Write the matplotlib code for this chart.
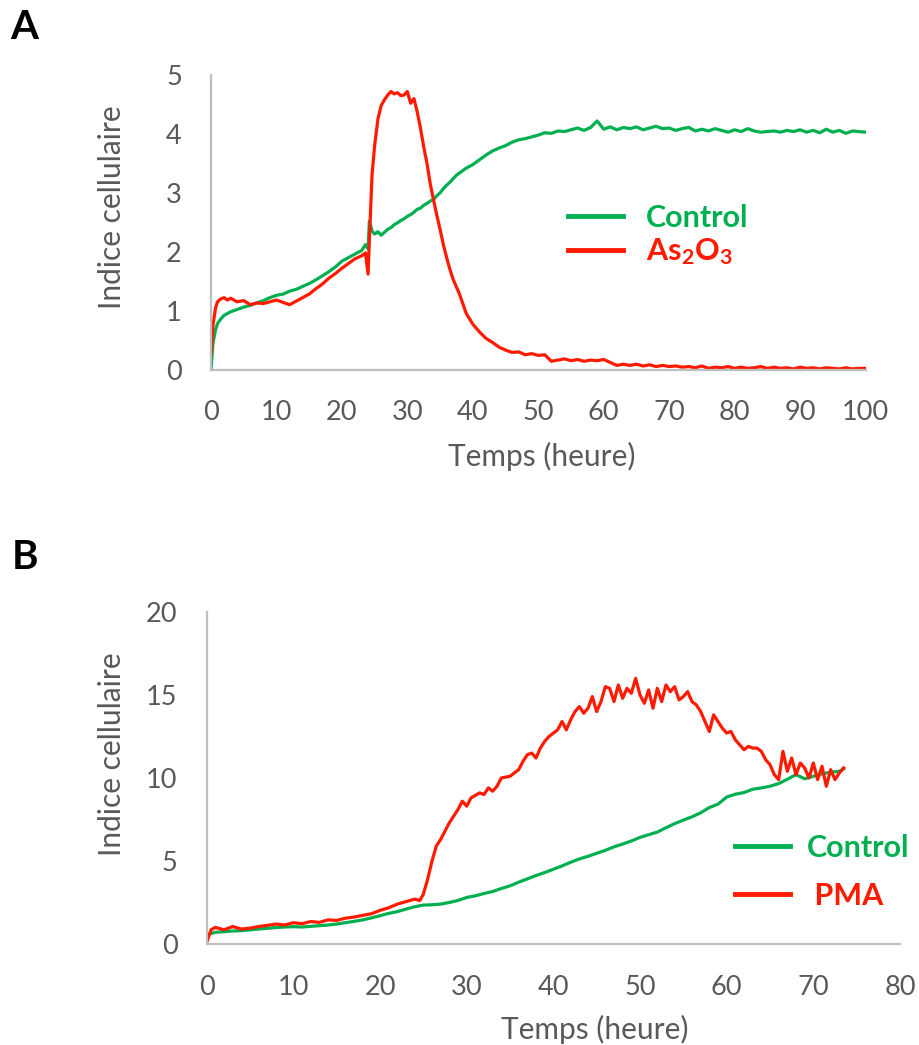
import matplotlib
matplotlib.use('Agg')
import matplotlib.pyplot as plt
from matplotlib.lines import Line2D

plt.rcParams['font.family'] = ['Lato', 'DejaVu Sans']
plt.rcParams['mathtext.fontset'] = 'custom'
plt.rcParams['mathtext.rm'] = 'Lato:bold'
plt.rcParams['mathtext.it'] = 'Lato:bold'
plt.rcParams['mathtext.bf'] = 'Lato:bold'

GREEN = '#00b050'
RED = '#ff1a00'
GRAY_TXT = '#595959'
GRAY_AX = '#bfbfbf'

# ---- Panel A data (time in hours, cell index) ----
tA = [0, 0.3, 0.7, 1.0, 1.5, 2, 2.5, 3, 4, 5, 6, 7, 8, 9, 10, 11, 12, 13, 14, 15,
      16, 17, 18, 19, 20, 21, 22, 23, 23.6, 24.0, 24.2, 24.6, 25.0, 25.5, 26, 26.5,
      27, 27.5, 28, 28.5, 29, 29.5, 30, 30.5, 31, 31.5, 32, 32.5, 33, 33.5, 34, 34.5,
      35, 35.5, 36, 36.5, 37, 37.5, 38, 39, 40, 41, 42, 43, 44, 45, 46, 47, 48, 49,
      50, 51, 52, 53, 54, 55, 56, 57, 58, 59, 60, 61, 62, 63, 64, 65, 66, 67, 68, 69,
      70, 71, 72, 73, 74, 75, 76, 77, 78, 79, 80, 81, 82, 83, 84, 85, 86, 87, 88, 89,
      90, 91, 92, 93, 94, 95, 96, 97, 98, 99, 100]

controlA = [0.0, 0.45, 0.68, 0.78, 0.86, 0.92, 0.95, 0.98, 1.02, 1.06, 1.09, 1.13, 1.17,
            1.22, 1.26, 1.28, 1.33, 1.36, 1.41, 1.46, 1.52, 1.59, 1.66, 1.74, 1.84, 1.90,
            1.96, 2.02, 2.12, 2.05, 2.52, 2.35, 2.30, 2.34, 2.28, 2.33, 2.38, 2.41, 2.46,
            2.49, 2.53, 2.56, 2.60, 2.63, 2.67, 2.72, 2.74, 2.79, 2.82, 2.86, 2.89, 2.95,
            3.00, 3.07, 3.13, 3.18, 3.24, 3.30, 3.34, 3.42, 3.48, 3.56, 3.64, 3.71, 3.76,
            3.80, 3.86, 3.90, 3.92, 3.95, 3.98, 4.02, 4.01, 4.05, 4.04, 4.07, 4.10, 4.06,
            4.11, 4.22, 4.08, 4.12, 4.07, 4.11, 4.09, 4.12, 4.07, 4.10, 4.13, 4.09, 4.10,
            4.06, 4.09, 4.11, 4.05, 4.08, 4.05, 4.09, 4.06, 4.03, 4.07, 4.04, 4.09, 4.05,
            4.03, 4.04, 4.05, 4.03, 4.06, 4.04, 4.07, 4.03, 4.06, 4.02, 4.08, 4.03, 4.06,
            4.01, 4.05, 4.04, 4.03]

as2o3A = [0.25, 0.75, 1.05, 1.15, 1.20, 1.22, 1.18, 1.21, 1.15, 1.17, 1.10, 1.13, 1.12,
          1.15, 1.18, 1.14, 1.10, 1.16, 1.22, 1.28, 1.37, 1.45, 1.55, 1.63, 1.72, 1.80,
          1.88, 1.93, 1.98, 1.62, 2.20, 3.30, 3.80, 4.25, 4.48, 4.58, 4.66, 4.72, 4.68,
          4.70, 4.65, 4.66, 4.72, 4.52, 4.60, 4.38, 4.10, 3.78, 3.50, 3.15, 2.88, 2.62,
          2.38, 2.12, 1.90, 1.70, 1.53, 1.40, 1.27, 0.95, 0.77, 0.64, 0.53, 0.46, 0.38,
          0.33, 0.29, 0.30, 0.25, 0.27, 0.24, 0.25, 0.14, 0.16, 0.18, 0.15, 0.17, 0.14,
          0.16, 0.15, 0.17, 0.12, 0.07, 0.09, 0.07, 0.09, 0.06, 0.08, 0.05, 0.07, 0.05,
          0.06, 0.04, 0.05, 0.03, 0.06, 0.02, 0.04, 0.03, 0.05, 0.02, 0.04, 0.02, 0.03,
          0.05, 0.02, 0.04, 0.02, 0.03, 0.01, 0.04, 0.02, 0.03, 0.01, 0.03, 0.02, 0.01,
          0.03, 0.01, 0.02, 0.02]

# ---- Panel B data ----
tB_control = [0, 1, 2, 3, 4, 5, 6, 7, 8, 9, 10, 11, 12, 13, 14, 15, 16, 17, 18, 19, 20,
              21, 22, 23, 24, 25, 26, 27, 28, 29, 30, 31, 32, 33, 34, 35, 36, 37, 38, 39,
              40, 41, 42, 43, 44, 45, 46, 47, 48, 49, 50, 51, 52, 53, 54, 55, 56, 57, 58,
              59, 60, 61, 62, 63, 64, 65, 66, 67, 68, 69, 70, 71, 72, 73, 73.5]
controlB = [0.55, 0.70, 0.74, 0.78, 0.80, 0.85, 0.90, 0.94, 0.99, 1.02, 1.04, 1.02, 1.06,
            1.10, 1.14, 1.20, 1.28, 1.36, 1.45, 1.57, 1.70, 1.84, 1.95, 2.10, 2.24, 2.34,
            2.36, 2.40, 2.50, 2.62, 2.80, 2.90, 3.04, 3.16, 3.34, 3.50, 3.72, 3.92, 4.12,
            4.30, 4.50, 4.70, 4.92, 5.12, 5.28, 5.46, 5.64, 5.85, 6.02, 6.20, 6.42, 6.58,
            6.74, 7.00, 7.25, 7.46, 7.66, 7.90, 8.22, 8.42, 8.85, 9.02, 9.12, 9.32, 9.40,
            9.50, 9.66, 9.92, 10.20, 9.95, 10.10, 10.25, 10.35, 10.40, 10.55]

tB_pma = [0, 0.5, 1, 2, 3, 4, 5, 6, 7, 8, 9, 10, 11, 12, 13, 14, 15, 16, 17, 18, 19, 20,
          21, 22, 23, 24, 24.6, 25.0, 25.5, 26, 26.5, 27, 27.5, 28, 28.5, 29, 29.5, 30,
          30.5, 31, 31.5, 32, 32.5, 33, 33.5, 34, 34.5, 35, 35.5, 36, 36.5, 37, 37.5, 38,
          38.5, 39, 39.5, 40, 40.5, 41, 41.5, 42, 42.5, 43, 43.5, 44, 44.5, 45, 45.5, 46,
          46.5, 47, 47.5, 48, 48.5, 49, 49.5, 50, 50.5, 51, 51.5, 52, 52.5, 53, 53.5, 54,
          54.5, 55, 55.5, 56, 56.5, 57, 57.5, 58, 58.5, 59, 59.5, 60, 60.5, 61, 61.5, 62,
          62.5, 63, 63.5, 64, 64.5, 65, 65.5, 66, 66.5, 67, 67.5, 68, 68.5, 69, 69.5, 70,
          70.5, 71, 71.5, 72, 72.5, 73, 73.5]
pmaB = [0.1, 0.85, 1.0, 0.85, 1.05, 0.9, 0.95, 1.05, 1.12, 1.2, 1.14, 1.28, 1.22, 1.35,
        1.3, 1.45, 1.42, 1.55, 1.62, 1.72, 1.82, 2.02, 2.18, 2.40, 2.55, 2.70, 2.62, 3.0,
        3.9, 5.0, 5.9, 6.3, 6.8, 7.3, 7.7, 8.1, 8.6, 8.3, 8.8, 8.95, 9.1, 9.0, 9.4, 9.2,
        9.5, 10.0, 10.05, 10.1, 10.3, 10.5, 11.0, 11.4, 11.5, 11.2, 11.8, 12.2, 12.5, 12.7,
        12.9, 13.4, 12.9, 13.5, 14.0, 14.3, 13.9, 14.2, 14.9, 14.0, 14.6, 15.5, 15.4, 14.6,
        15.6, 14.8, 15.4, 15.1, 16.0, 15.0, 14.5, 15.3, 14.2, 15.4, 14.6, 15.6, 15.2, 15.5,
        14.7, 14.9, 15.2, 14.6, 14.4, 14.0, 13.4, 12.8, 13.8, 13.4, 13.0, 12.7, 12.8, 12.3,
        12.0, 11.7, 11.9, 11.8, 11.8, 11.6, 11.1, 10.8, 10.2, 9.9, 11.6, 10.4, 11.2, 10.2,
        10.9, 10.6, 10.0, 10.9, 9.9, 10.7, 9.5, 10.5, 9.9, 10.3, 10.6]

xticksA = [0, 10, 20, 30, 40, 50, 60, 70, 80, 90, 100]
yticksA = [0, 1, 2, 3, 4, 5]
xticksB = [0, 10, 20, 30, 40, 50, 60, 70, 80]
yticksB = [0, 5, 10, 15, 20]

fig = plt.figure(figsize=(9.19, 10.45), dpi=100)

axA = fig.add_axes([0.2296, 0.6464, 0.7122, 0.2818])
axB = fig.add_axes([0.2249, 0.0967, 0.7544, 0.3177])


def style(ax, xticks, yticks):
    for s in ['top', 'right']:
        ax.spines[s].set_visible(False)
    for s in ['left', 'bottom']:
        ax.spines[s].set_color(GRAY_AX)
        ax.spines[s].set_linewidth(1.6)
    ax.set_xticks(xticks)
    ax.set_yticks(yticks)
    ax.set_xlim(xticks[0], xticks[-1])
    ax.set_ylim(yticks[0], yticks[-1])
    ax.tick_params(length=0, labelsize=19.5, labelcolor=GRAY_TXT)
    ax.tick_params(axis='x', pad=22)
    ax.tick_params(axis='y', pad=21)
    ax.set_xlabel('Temps (heure)', fontsize=21.5, color=GRAY_TXT)
    ax.set_ylabel('Indice cellulaire', fontsize=21.5, color=GRAY_TXT)


# Panel A
axA.plot(tA, controlA, color=GREEN, lw=2.3)
axA.plot(tA, as2o3A, color=RED, lw=2.3)
style(axA, xticksA, yticksA)
axA.xaxis.set_label_coords(0.506, -0.245)
axA.yaxis.set_label_coords(-0.13, 0.55)

hA = [Line2D([], [], color=GREEN, lw=3.5), Line2D([], [], color=RED, lw=3.5)]
axA.legend(hA, ['Control', 'As$_2$O$_3$'], loc='center left',
           bbox_to_anchor=(0.546, 0.455), frameon=False,
           prop={'size': 22, 'weight': 'bold'}, labelcolor=[GREEN, RED],
           handlelength=1.8, handletextpad=0.75, labelspacing=0.15,
           borderpad=0, borderaxespad=0)

# Panel B
axB.plot(tB_control, controlB, color=GREEN, lw=2.3)
axB.plot(tB_pma, pmaB, color=RED, lw=2.3)
style(axB, xticksB, yticksB)
axB.xaxis.set_label_coords(0.56, -0.215)
axB.yaxis.set_label_coords(-0.117, 0.572)

hB = [Line2D([], [], color=GREEN, lw=3.5), Line2D([], [], color=RED, lw=3.5)]
axB.legend(hB, ['Control', ' PMA'], loc='center left',
           bbox_to_anchor=(0.762, 0.217), frameon=False,
           prop={'size': 22, 'weight': 'bold'}, labelcolor=[GREEN, RED],
           handlelength=1.8, handletextpad=0.55, labelspacing=0.65,
           borderpad=0, borderaxespad=0)

fig.text(0.011, 0.991, 'A', fontsize=29, fontweight='bold', va='top', ha='left')
fig.text(0.013, 0.484, 'B', fontsize=29, fontweight='bold', va='top', ha='left')

fig.savefig('out.png', dpi=100)
